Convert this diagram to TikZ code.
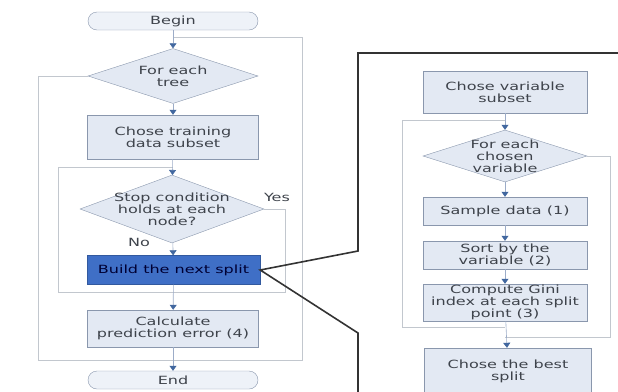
\documentclass[tikz,border=0pt]{standalone}
\usepackage{fontspec}
\setmainfont{DejaVu Sans}[FakeStretch=1.42]
\usepackage{tikz}
\usetikzlibrary{arrows.meta,shapes.geometric,positioning}
\definecolor{boxfill}{HTML}{E3E9F3}
\definecolor{boxline}{HTML}{8A97AD}
\definecolor{loopgray}{HTML}{C2C7CE}
\definecolor{linkblue}{HTML}{9CACC8}
\definecolor{tipblue}{HTML}{41679F}
\definecolor{splitblue}{HTML}{3F6FC6}
\definecolor{txtgray}{HTML}{3E434B}

\begin{document}
\begin{tikzpicture}[x=1pt,y=-1pt,
    every node/.style={font=\fontsize{11.3}{12}\selectfont, text=txtgray},
    box/.style={rectangle, draw=boxline, fill=boxfill, inner sep=1pt, align=center, minimum width=#1},
    box/.default=164pt,
    term/.style={rectangle, rounded corners=9pt, draw=boxline, fill=boxfill!60, minimum width=170pt, minimum height=18pt, inner sep=0pt},
    dec/.style={diamond, draw=boxline, fill=boxfill, inner sep=0pt},
    split/.style={rectangle, draw=splitblue!80!black, fill=splitblue, text=blue!20!black, minimum width=173pt, minimum height=29pt},
    link/.style={draw=linkblue, line width=0.6pt, -{Triangle[width=7pt,length=5pt,color=tipblue]}},
    loopline/.style={draw=loopgray, line width=0.9pt},
    zoomline/.style={draw=black!80, line width=1.6pt}]
    \useasboundingbox (0,0) rectangle (618,391);
    % main loop over trees
    \node[term] (begin) at (173,21) {Begin};
    \node[dec, minimum width=170pt, minimum height=55pt,
          label={[align=center, text=txtgray]center:For each\\tree}] (tree) at (173,76) {};
    \node[box=171pt, minimum height=44pt] (train) at (173,137) {Chose training\\data subset};
    \node[dec, minimum width=184pt, minimum height=68pt,
          label={[align=center, text=txtgray]center:Stop condition\\holds at each\\node?}] (stop) at (172,209) {};
    \node[split] (build) at (173.5,270) {Build the next split};
    \node[box=171pt, minimum height=37pt] (calc) at (173,328.5) {Calculate\\prediction error (4)};
    \node[term] (end) at (173,380) {End};
    \node (yes) at (277,197) {Yes};
    \node (no) at (139,242) {No};

    \coordinate (jA) at (173,37);
    \coordinate (oL) at (38,360);
    \coordinate (oR) at (302,360);
    \coordinate (jB) at (173,167);
    \coordinate (iL) at (58,292);
    \coordinate (iR) at (285,292);

    \draw[loopline] (tree.west) -| (oL) -- (oR) |- (jA);
    \draw[loopline] (stop.east) -| (iR) -- (iL) |- (jB);
    \draw[link] (begin) -- (tree);
    \draw[link] (tree) -- (train);
    \draw[link] (train) -- (stop);
    \draw[link] (stop) -- (build);
    \draw[link] (build) -- (calc);
    \draw[link] (calc) -- (end);

    % zoom into one split
    \node[box, minimum height=42pt] (vsub) at (505,92) {Chose variable\\subset};
    \node[dec, minimum width=164pt, minimum height=52pt,
          label={[align=center, text=txtgray]center:For each\\chosen\\variable}] (var) at (505,156) {};
    \node[box, minimum height=28pt] (sample) at (505,211) {Sample data (1)};
    \node[box, minimum height=28pt] (sort) at (505,255) {Sort by the\\variable (2)};
    \node[box, minimum height=35pt] (gini) at (505,302.5) {Compute Gini\\index at each split\\point (3)};
    \node[box=167pt, minimum height=46pt] (best) at (508,371) {Chose the best\\split};

    \coordinate (jC) at (505,120);
    \coordinate (gM) at (505,327);
    \coordinate (gL) at (402,327);
    \coordinate (vR) at (610,337);
    \coordinate (vM) at (505,337);

    \draw[loopline] (gM) -- (gL) |- (jC);
    \draw[loopline] (var.east) -| (vR) -- (vM);
    \draw[link] (vsub) -- (var);
    \draw[link] (var) -- (sample);
    \draw[link] (sample) -- (sort);
    \draw[link] (sort) -- (gini);
    \draw[link] (gini) -- (best);

    \coordinate (zR) at (625,53);
    \coordinate (zTop) at (358,53);
    \coordinate (zT) at (358,251);
    \coordinate (zB) at (358,333);
    \coordinate (zBot) at (358,396);
    \draw[zoomline] (zR) -- (zTop) -- (zT) -- (build.east) -- (zB) -- (zBot);
\end{tikzpicture}
\end{document}
